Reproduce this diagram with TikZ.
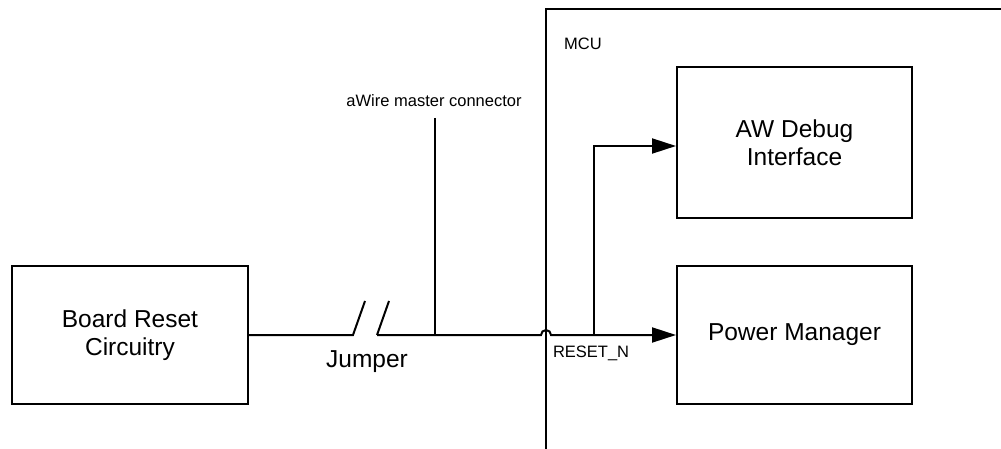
\documentclass[tikz,border=0pt]{standalone}
\usepackage{fontspec}
\setmainfont{Liberation Sans}
\usetikzlibrary{arrows.meta}
\begin{document}
\begin{tikzpicture}[x=1pt,y=-1pt,line width=2pt,
  blk/.style={draw,line width=2pt,inner sep=0pt,align=center,
    font=\fontsize{24.5}{28}\selectfont},
  lbl/.style={inner sep=0pt,font=\fontsize{16.5}{20}\selectfont},
  big/.style={inner sep=0pt,font=\fontsize{24.5}{28}\selectfont},
  arr/.style={-{Triangle[length=24pt,width=15pt]}}]
\useasboundingbox (0,0) rectangle (1001,449);
% blocks
\node[blk,minimum width=236pt,minimum height=138pt] (br) at (130,335) {Board Reset\\Circuitry};
\node[blk,minimum width=235pt,minimum height=151pt] (aw) at (794.5,142.5) {AW Debug\\Interface};
\node[blk,minimum width=235pt,minimum height=138pt] (pm) at (794.5,335) {Power Manager};
% MCU boundary
\coordinate (mcuB) at (546,449);
\coordinate (mcuC) at (546,9);
\coordinate (mcuR) at (1001,9);
\draw (mcuB) -- (mcuC) -- (mcuR);
\node[lbl] (mcu) at (583,44) {MCU};
% jumper
\coordinate (j1) at (353,335);
\coordinate (j1t) at (365,301);
\coordinate (j2) at (377,335);
\coordinate (j2t) at (389,301);
\draw (br.east |- j1) -- (j1) -- (j1t);
\draw (j2t) -- (j2);
\node[big,anchor=base] (jmp) at (367,367) {Jumper};
% main reset line with hop over MCU boundary
\coordinate (hopL) at (541,335);
\coordinate (tap) at (594,335);
\coordinate (aWj) at (435,335);
\draw[arr] (j2) -- (hopL) arc[start angle=180,end angle=0,radius=5pt] -- (pm.west |- tap);
% aWire connector
\node[lbl,anchor=base] (awire) at (434,107) {aWire master connector};
\coordinate (awtop) at (435,118);
\draw (awtop) -- (aWj);
% branch to AW Debug
\coordinate (tapTop) at (594,146);
\draw[arr] (tap) -- (tapTop) -- (aw.west |- tapTop);
\node[lbl,anchor=north west] (rst) at (552,345) {RESET\_N};
\end{tikzpicture}
\end{document}
